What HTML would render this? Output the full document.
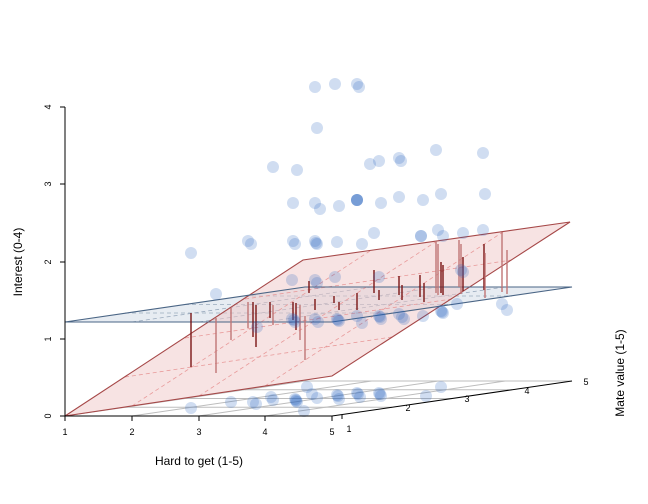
<!DOCTYPE html>
<html><head><meta charset="utf-8"><style>body{margin:0;background:#fff}svg{display:block}text{font-family:"Liberation Sans",sans-serif;fill:#000}</style></head><body>
<svg width="648" height="504" viewBox="0 0 648 504" xmlns="http://www.w3.org/2000/svg">
<!-- floor grid -->
<g stroke="#bdbdbd" stroke-width="1" fill="none">
<line x1="305" y1="381" x2="572" y2="381"/>
<line x1="125" y1="407.25" x2="392" y2="407.25"/>
<line x1="185" y1="398.5" x2="452" y2="398.5"/>
<line x1="245" y1="389.75" x2="512" y2="389.75"/>
<line x1="65" y1="416" x2="305" y2="381"/>
<line x1="131.75" y1="416" x2="371.75" y2="381"/>
<line x1="198.5" y1="416" x2="438.5" y2="381"/>
<line x1="265.25" y1="416" x2="505.25" y2="381"/>
</g>
<!-- floor points -->
<g fill="rgb(40,100,190)" fill-opacity="0.22">
<circle cx="191" cy="408" r="6"/><circle cx="231" cy="402" r="6"/><circle cx="253" cy="402" r="6"/><circle cx="256" cy="404" r="6"/><circle cx="271" cy="397" r="6"/><circle cx="273" cy="400" r="6"/><circle cx="295" cy="399" r="6"/><circle cx="297" cy="402" r="6"/><circle cx="296" cy="400" r="6"/><circle cx="296" cy="401" r="6"/><circle cx="307" cy="387" r="6"/><circle cx="304" cy="411" r="6"/><circle cx="312" cy="394" r="6"/><circle cx="317" cy="398" r="6"/><circle cx="337" cy="395" r="6"/><circle cx="339" cy="399" r="6"/><circle cx="338" cy="396" r="6"/><circle cx="357" cy="393" r="6"/><circle cx="360" cy="397" r="6"/><circle cx="358" cy="394" r="6"/><circle cx="379" cy="393" r="6"/><circle cx="381" cy="396" r="6"/><circle cx="380" cy="394" r="6"/><circle cx="426" cy="396" r="6"/><circle cx="441" cy="387" r="6"/>
</g>
<!-- blue plane -->
<polygon points="65,322 332,322 572,287 305,287" fill="#d3dde8" fill-opacity="0.55" stroke="none"/>
<g stroke="#9aaabd" stroke-dasharray="4,3" stroke-width="0.8"><line x1="125" y1="313" x2="392" y2="313"/><line x1="185" y1="304.5" x2="452" y2="304.5"/><line x1="245" y1="296" x2="512" y2="296"/><line x1="132" y1="322" x2="372" y2="287"/><line x1="199" y1="322" x2="439" y2="287"/><line x1="265" y1="322" x2="505" y2="287"/></g>
<!-- red plane -->
<polygon points="65,416 332,376 570,222 303,260" fill="#f0c8c8" fill-opacity="0.5" stroke="none"/>
<g stroke="#e89a9a" stroke-dasharray="4,3" stroke-width="0.8">
<line x1="125" y1="377" x2="392" y2="337"/><line x1="185" y1="338" x2="452" y2="299"/><line x1="245" y1="299" x2="512" y2="260"/>
<line x1="132" y1="406" x2="370" y2="251"/><line x1="199" y1="396" x2="437" y2="241"/><line x1="265" y1="386" x2="503" y2="232"/>
</g>
<g stroke="#a64848" stroke-width="1.1" fill="none"><polygon points="65,416 332,376 570,222 303,260"/></g>
<g stroke="#4a6585" stroke-width="1.1" fill="none"><polygon points="65,322 332,322 572,287 305,287"/></g>
<!-- residual lines -->
<g stroke-width="1.4">
<g stroke="#7a1515">
<line x1="191" y1="313" x2="191" y2="367"/><line x1="253" y1="302" x2="253" y2="337"/><line x1="256" y1="305" x2="256" y2="347"/><line x1="270" y1="302" x2="270" y2="318"/><line x1="293" y1="302" x2="293" y2="320"/><line x1="296" y1="303" x2="296" y2="330"/><line x1="309" y1="281" x2="309" y2="293"/><line x1="315" y1="299" x2="315" y2="310"/><line x1="334" y1="296" x2="334" y2="303"/><line x1="339" y1="302" x2="339" y2="310"/><line x1="357" y1="293" x2="357" y2="310"/><line x1="374" y1="270" x2="374" y2="293"/><line x1="379" y1="290" x2="379" y2="300"/><line x1="399" y1="276" x2="399" y2="295"/><line x1="402" y1="285" x2="402" y2="300"/><line x1="420" y1="275" x2="420" y2="297"/><line x1="424" y1="283" x2="424" y2="302"/><line x1="441" y1="262" x2="441" y2="293"/><line x1="443" y1="265" x2="443" y2="295"/><line x1="463" y1="257" x2="463" y2="291"/><line x1="484" y1="244" x2="484" y2="290"/>
</g>
<g stroke="#c07575">
<line x1="216" y1="318" x2="216" y2="373"/><line x1="231" y1="308" x2="231" y2="340"/><line x1="248" y1="302" x2="248" y2="328"/><line x1="273" y1="305" x2="273" y2="325"/><line x1="300" y1="305" x2="300" y2="340"/><line x1="305" y1="316" x2="305" y2="360"/><line x1="436" y1="241" x2="436" y2="293"/><line x1="438" y1="244" x2="438" y2="295"/><line x1="459" y1="240" x2="459" y2="287"/><line x1="485" y1="253" x2="485" y2="298"/><line x1="502" y1="232" x2="502" y2="292"/><line x1="507" y1="250" x2="507" y2="294"/><line x1="461" y1="244" x2="461" y2="294"/>
</g>
</g>
<!-- points -->
<g fill="rgb(40,100,190)" fill-opacity="0.22">
<circle cx="315" cy="87" r="6"/><circle cx="335" cy="84" r="6"/><circle cx="357" cy="84" r="6"/><circle cx="359" cy="87" r="6"/><circle cx="317" cy="128" r="6"/><circle cx="273" cy="167" r="6"/><circle cx="297" cy="170" r="6"/><circle cx="370" cy="164" r="6"/><circle cx="379" cy="161" r="6"/><circle cx="399" cy="158" r="6"/><circle cx="401" cy="161" r="6"/><circle cx="436" cy="150" r="6"/><circle cx="483" cy="153" r="6"/>
<circle cx="293" cy="203" r="6"/><circle cx="315" cy="203" r="6"/><circle cx="320" cy="209" r="6"/><circle cx="339" cy="206" r="6"/><circle cx="357" cy="200" r="6"/><circle cx="357" cy="200" r="6"/><circle cx="357" cy="200" r="6"/><circle cx="357" cy="200" r="6"/><circle cx="381" cy="203" r="6"/><circle cx="399" cy="197" r="6"/><circle cx="423" cy="200" r="6"/><circle cx="441" cy="194" r="6"/><circle cx="485" cy="194" r="6"/>
<circle cx="191" cy="253" r="6"/><circle cx="248" cy="241" r="6"/><circle cx="251" cy="244" r="6"/><circle cx="293" cy="241" r="6"/><circle cx="295" cy="244" r="6"/><circle cx="315" cy="241" r="6"/><circle cx="317" cy="244" r="6"/><circle cx="316" cy="243" r="6"/><circle cx="337" cy="242" r="6"/><circle cx="362" cy="244" r="6"/><circle cx="374" cy="233" r="6"/><circle cx="421" cy="236" r="6"/><circle cx="421" cy="236" r="6"/><circle cx="438" cy="230" r="6"/><circle cx="443" cy="236" r="6"/><circle cx="463" cy="233" r="6"/><circle cx="483" cy="230" r="6"/>
<circle cx="216" cy="294" r="6"/><circle cx="292" cy="280" r="6"/><circle cx="315" cy="280" r="6"/><circle cx="317" cy="283" r="6"/><circle cx="335" cy="277" r="6"/><circle cx="379" cy="277" r="6"/><circle cx="461" cy="270" r="6"/><circle cx="463" cy="272" r="6"/>
<circle cx="257" cy="327" r="6"/><circle cx="292" cy="319" r="6"/><circle cx="295" cy="322" r="6"/><circle cx="294" cy="320" r="6"/><circle cx="315" cy="319" r="6"/><circle cx="318" cy="322" r="6"/><circle cx="337" cy="319" r="6"/><circle cx="339" cy="321" r="6"/><circle cx="338" cy="320" r="6"/><circle cx="357" cy="316" r="6"/><circle cx="362" cy="323" r="6"/><circle cx="379" cy="316" r="6"/><circle cx="381" cy="319" r="6"/><circle cx="380" cy="317" r="6"/><circle cx="399" cy="314" r="6"/><circle cx="404" cy="319" r="6"/><circle cx="402" cy="317" r="6"/><circle cx="423" cy="316" r="6"/><circle cx="441" cy="311" r="6"/><circle cx="443" cy="313" r="6"/><circle cx="442" cy="312" r="6"/><circle cx="457" cy="304" r="6"/><circle cx="502" cy="304" r="6"/><circle cx="507" cy="310" r="6"/>
</g>
<!-- axes -->
<g stroke="#000" stroke-width="1" fill="none">
<line x1="65" y1="107" x2="65" y2="416"/>
<line x1="60" y1="107" x2="65" y2="107"/><line x1="60" y1="184" x2="65" y2="184"/><line x1="60" y1="262" x2="65" y2="262"/><line x1="60" y1="339" x2="65" y2="339"/><line x1="60" y1="416" x2="65" y2="416"/>
<line x1="65" y1="416" x2="332" y2="416"/>
<line x1="65" y1="416" x2="65" y2="421"/><line x1="132" y1="416" x2="132" y2="421"/><line x1="199" y1="416" x2="199" y2="421"/><line x1="265" y1="416" x2="265" y2="421"/><line x1="332" y1="416" x2="332" y2="421"/>
<line x1="332" y1="416" x2="572" y2="381"/>
<line x1="342" y1="414.5" x2="342" y2="419"/>
</g>
<g font-size="9" text-anchor="middle">
<text transform="translate(48,416) rotate(-90)" dy="3">0</text>
<text transform="translate(48,339) rotate(-90)" dy="3">1</text>
<text transform="translate(48,262) rotate(-90)" dy="3">2</text>
<text transform="translate(48,184) rotate(-90)" dy="3">3</text>
<text transform="translate(48,107) rotate(-90)" dy="3">4</text>
<text x="65" y="435">1</text><text x="132" y="435">2</text><text x="199" y="435">3</text><text x="265" y="435">4</text><text x="332" y="435">5</text>
<text x="349" y="432">1</text><text x="408" y="411">2</text><text x="467" y="402">3</text><text x="527" y="394">4</text><text x="586" y="385">5</text>
</g>
<g font-size="12" text-anchor="middle">
<text x="199" y="465">Hard to get (1-5)</text>
<text transform="translate(22,262) rotate(-90)">Interest (0-4)</text>
<text transform="translate(624,373) rotate(-90)">Mate value (1-5)</text>
</g>
</svg>
</body></html>
